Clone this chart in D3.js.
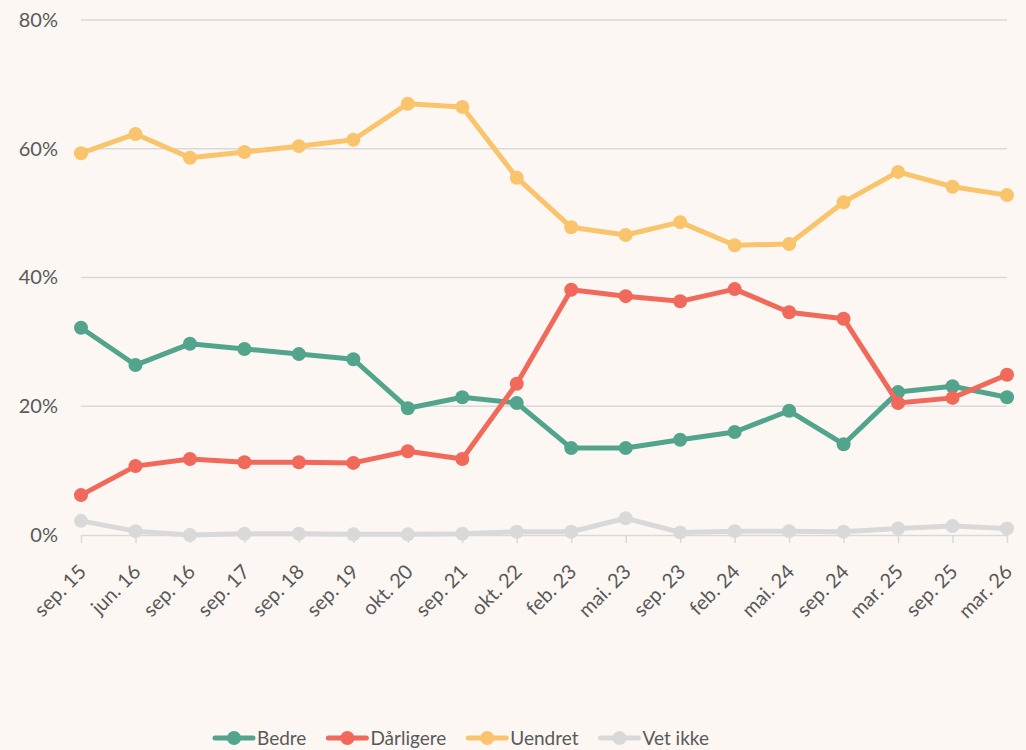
<!DOCTYPE html>
<html><head><meta charset="utf-8">
<script src="https://cdn.jsdelivr.net/npm/d3@7"></script>
<style>
html,body{margin:0;padding:0;background:#fdf7f4;}
svg{display:block;font-family:Lato,"Open Sans",sans-serif;}
</style></head>
<body>
<svg id="chart" width="1026" height="750"></svg>
<script>
const categories = ["sep. 15","jun. 16","sep. 16","sep. 17","sep. 18","sep. 19","okt. 20","sep. 21","okt. 22","feb. 23","mai. 23","sep. 23","feb. 24","mai. 24","sep. 24","mar. 25","sep. 25","mar. 26"];
const bedre     = [32.2,26.4,29.7,28.9,28.1,27.3,19.7,21.4,20.5,13.5,13.5,14.8,16.0,19.3,14.1,22.2,23.1,21.4];
const darligere = [6.2,10.7,11.8,11.3,11.3,11.2,13.0,11.8,23.5,38.1,37.1,36.3,38.2,34.6,33.6,20.5,21.3,24.9];
const uendret   = [59.3,62.3,58.6,59.5,60.4,61.4,67.0,66.5,55.5,47.8,46.6,48.6,45.0,45.2,51.7,56.4,54.1,52.8];
const vetIkke   = [2.2,0.6,0.0,0.2,0.2,0.1,0.1,0.2,0.5,0.5,2.6,0.4,0.6,0.6,0.5,1.0,1.4,1.0];
const seriesNames = ["Bedre","Dårligere","Uendret","Vet ikke"];
const seriesColors = ["#52a58c","#f0695a","#f9c46b","#d9d9d9"];
const yTicks = [0,20,40,60,80];

(function(){
const series = [
  {name: seriesNames[0], values: bedre, color: seriesColors[0]},
  {name: seriesNames[1], values: darligere, color: seriesColors[1]},
  {name: seriesNames[2], values: uendret, color: seriesColors[2]},
  {name: seriesNames[3], values: vetIkke, color: seriesColors[3]}
];

const svg = d3.select("#chart");
const mLeft = 81, mRight = 1007, mTop = 20, mBottom = 535;
const x = d3.scalePoint().domain(categories).range([mLeft, mRight]);
const y = d3.scaleLinear().domain([0, 80]).range([mBottom, mTop]);
const textColor = "#595959";

svg.append("g").selectAll("line").data(yTicks.filter(d => d > 0)).join("line")
  .attr("x1", mLeft).attr("x2", mRight)
  .attr("y1", d => y(d)).attr("y2", d => y(d))
  .attr("stroke", "#d9d9d9").attr("stroke-width", 1.5);

const yAxis = svg.append("g").attr("transform", `translate(${mLeft},0)`)
  .call(d3.axisLeft(y).tickValues(yTicks).tickFormat(d => d + "%").tickSize(0).tickPadding(23));
yAxis.select(".domain").remove();
yAxis.selectAll("text").attr("fill", textColor).style("font-size", "20px").style("font-family", "Lato, 'Open Sans', sans-serif");

const xAxis = svg.append("g").attr("transform", `translate(0,${mBottom})`)
  .call(d3.axisBottom(x).tickSize(8).tickPadding(6));
xAxis.select(".domain").attr("stroke", "#d9d9d9").attr("stroke-width", 1.5).attr("d", `M${mLeft},0.5H${mRight}`);
xAxis.selectAll(".tick line").attr("stroke", "#d9d9d9").attr("stroke-width", 1.5);
xAxis.selectAll("text")
  .attr("fill", textColor).style("font-size", "20px").style("font-family", "Lato, 'Open Sans', sans-serif")
  .attr("text-anchor", "end")
  .attr("x", 0).attr("y", 0).attr("dx", 0).attr("dy", 0)
  .attr("transform", "translate(6,38) rotate(-45)");

const line = d3.line().x((d, i) => x(categories[i])).y(d => y(d));
const drawOrder = [3, 2, 0, 1];
drawOrder.forEach(k => {
  const s = series[k];
  const g = svg.append("g");
  g.append("path").attr("d", line(s.values)).attr("fill", "none")
    .attr("stroke", s.color).attr("stroke-width", 5).attr("stroke-linejoin", "round");
  g.selectAll("circle").data(s.values).join("circle")
    .attr("cx", (d, i) => x(categories[i])).attr("cy", d => y(d)).attr("r", 7)
    .attr("fill", s.color);
});

const legendY = 738;
const legend = svg.append("g");
const fs = 19;
let cx = 213;
series.forEach((s, i) => {
  const g = legend.append("g").attr("transform", `translate(${cx},${legendY})`);
  g.append("line").attr("x1", 2).attr("x2", 40).attr("y1", 0).attr("y2", 0)
    .attr("stroke", s.color).attr("stroke-width", 5).attr("stroke-linecap", "round");
  g.append("circle").attr("cx", 21).attr("cy", 0).attr("r", 7).attr("fill", s.color);
  const t = g.append("text").attr("x", 44).attr("y", 0).attr("dy", "0.36em")
    .text(s.name).attr("fill", textColor).style("font-size", fs + "px");
  cx += 44 + t.node().getComputedTextLength() + 20;
});
})();
</script>
</body></html>
